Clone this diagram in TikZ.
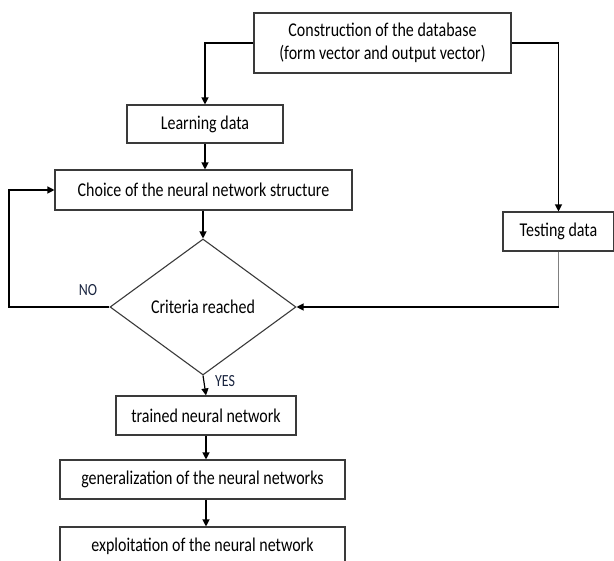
\documentclass[tikz,border=0pt]{standalone}
\usepackage{fontspec}
\setmainfont{Carlito}
\usetikzlibrary{shapes.geometric,arrows.meta}
\definecolor{boxline}{HTML}{3A3A3A}
\definecolor{lbl}{HTML}{1A2540}
\newcommand{\sqz}[1]{\scalebox{0.82}[1]{#1}}
\begin{document}
\begin{tikzpicture}[x=1pt,y=-1pt,
  box/.style={draw=boxline,line width=1.1pt,rectangle,inner sep=0pt,font=\fontsize{19.5}{23}\selectfont,align=center},
  conn/.style={draw=black,line width=1.2pt},
  arr/.style={conn,-{Triangle[length=7pt,width=7pt]}},
  lab/.style={font=\fontsize{17}{19}\selectfont,text=lbl,inner sep=0pt}]
\useasboundingbox (0,0) rectangle (614,561);
\clip (0,0) rectangle (614,561);
\node[box,minimum width=257pt,minimum height=60pt] (cons) at (382.5,43) {\sqz{\begin{tabular}{@{}c@{}}Construction of the database\\(form vector and output vector)\end{tabular}}};
\node[box,minimum width=156pt,minimum height=38pt] (learn) at (205,124) {\sqz{Learning data}};
\node[box,minimum width=297pt,minimum height=40pt] (choice) at (203.5,190) {\sqz{Choice of the neural network structure}};
\node[box,diamond,minimum width=186pt,minimum height=136pt] (crit) at (203,307) {\sqz{Criteria reached}};
\node[box,minimum width=111pt,minimum height=39pt] (test) at (558.5,231.5) {\sqz{Testing data}};
\node[box,minimum width=180pt,minimum height=39pt] (trained) at (206,415.5) {\sqz{trained neural network}};
\node[box,minimum width=285pt,minimum height=39pt] (gen) at (202.5,479.5) {\sqz{generalization of the neural networks}};
\node[box,minimum width=285pt,minimum height=39pt] (expl) at (202.5,546.5) {\sqz{exploitation of the neural network}};
\coordinate (loop) at (9,307);
\coordinate (tcorner) at (test.south |- crit.east);
\draw[arr] (cons.west) -| (learn.north);
\draw[arr] (cons.east) -| (test.north);
\draw[arr] (learn.south) -- (learn.south |- choice.north);
\draw[arr] (choice.south -| crit.north) -- (crit.north);
\draw[arr] (crit.west) -- (loop) |- (choice.west);
\draw[conn,draw=gray] (test.south) -- (tcorner);
\draw[arr] (tcorner) -- (crit.east);
\draw[arr] (crit.south) -- (trained.north);
\draw[arr] (trained.south) -- (trained.south |- gen.north);
\draw[arr] (gen.south -| trained.south) -- (trained.south |- expl.north);
\node[lab] (no) at (88,290) {\sqz{NO}};
\node[lab] (yes) at (225,381) {\sqz{YES}};
\end{tikzpicture}
\end{document}
